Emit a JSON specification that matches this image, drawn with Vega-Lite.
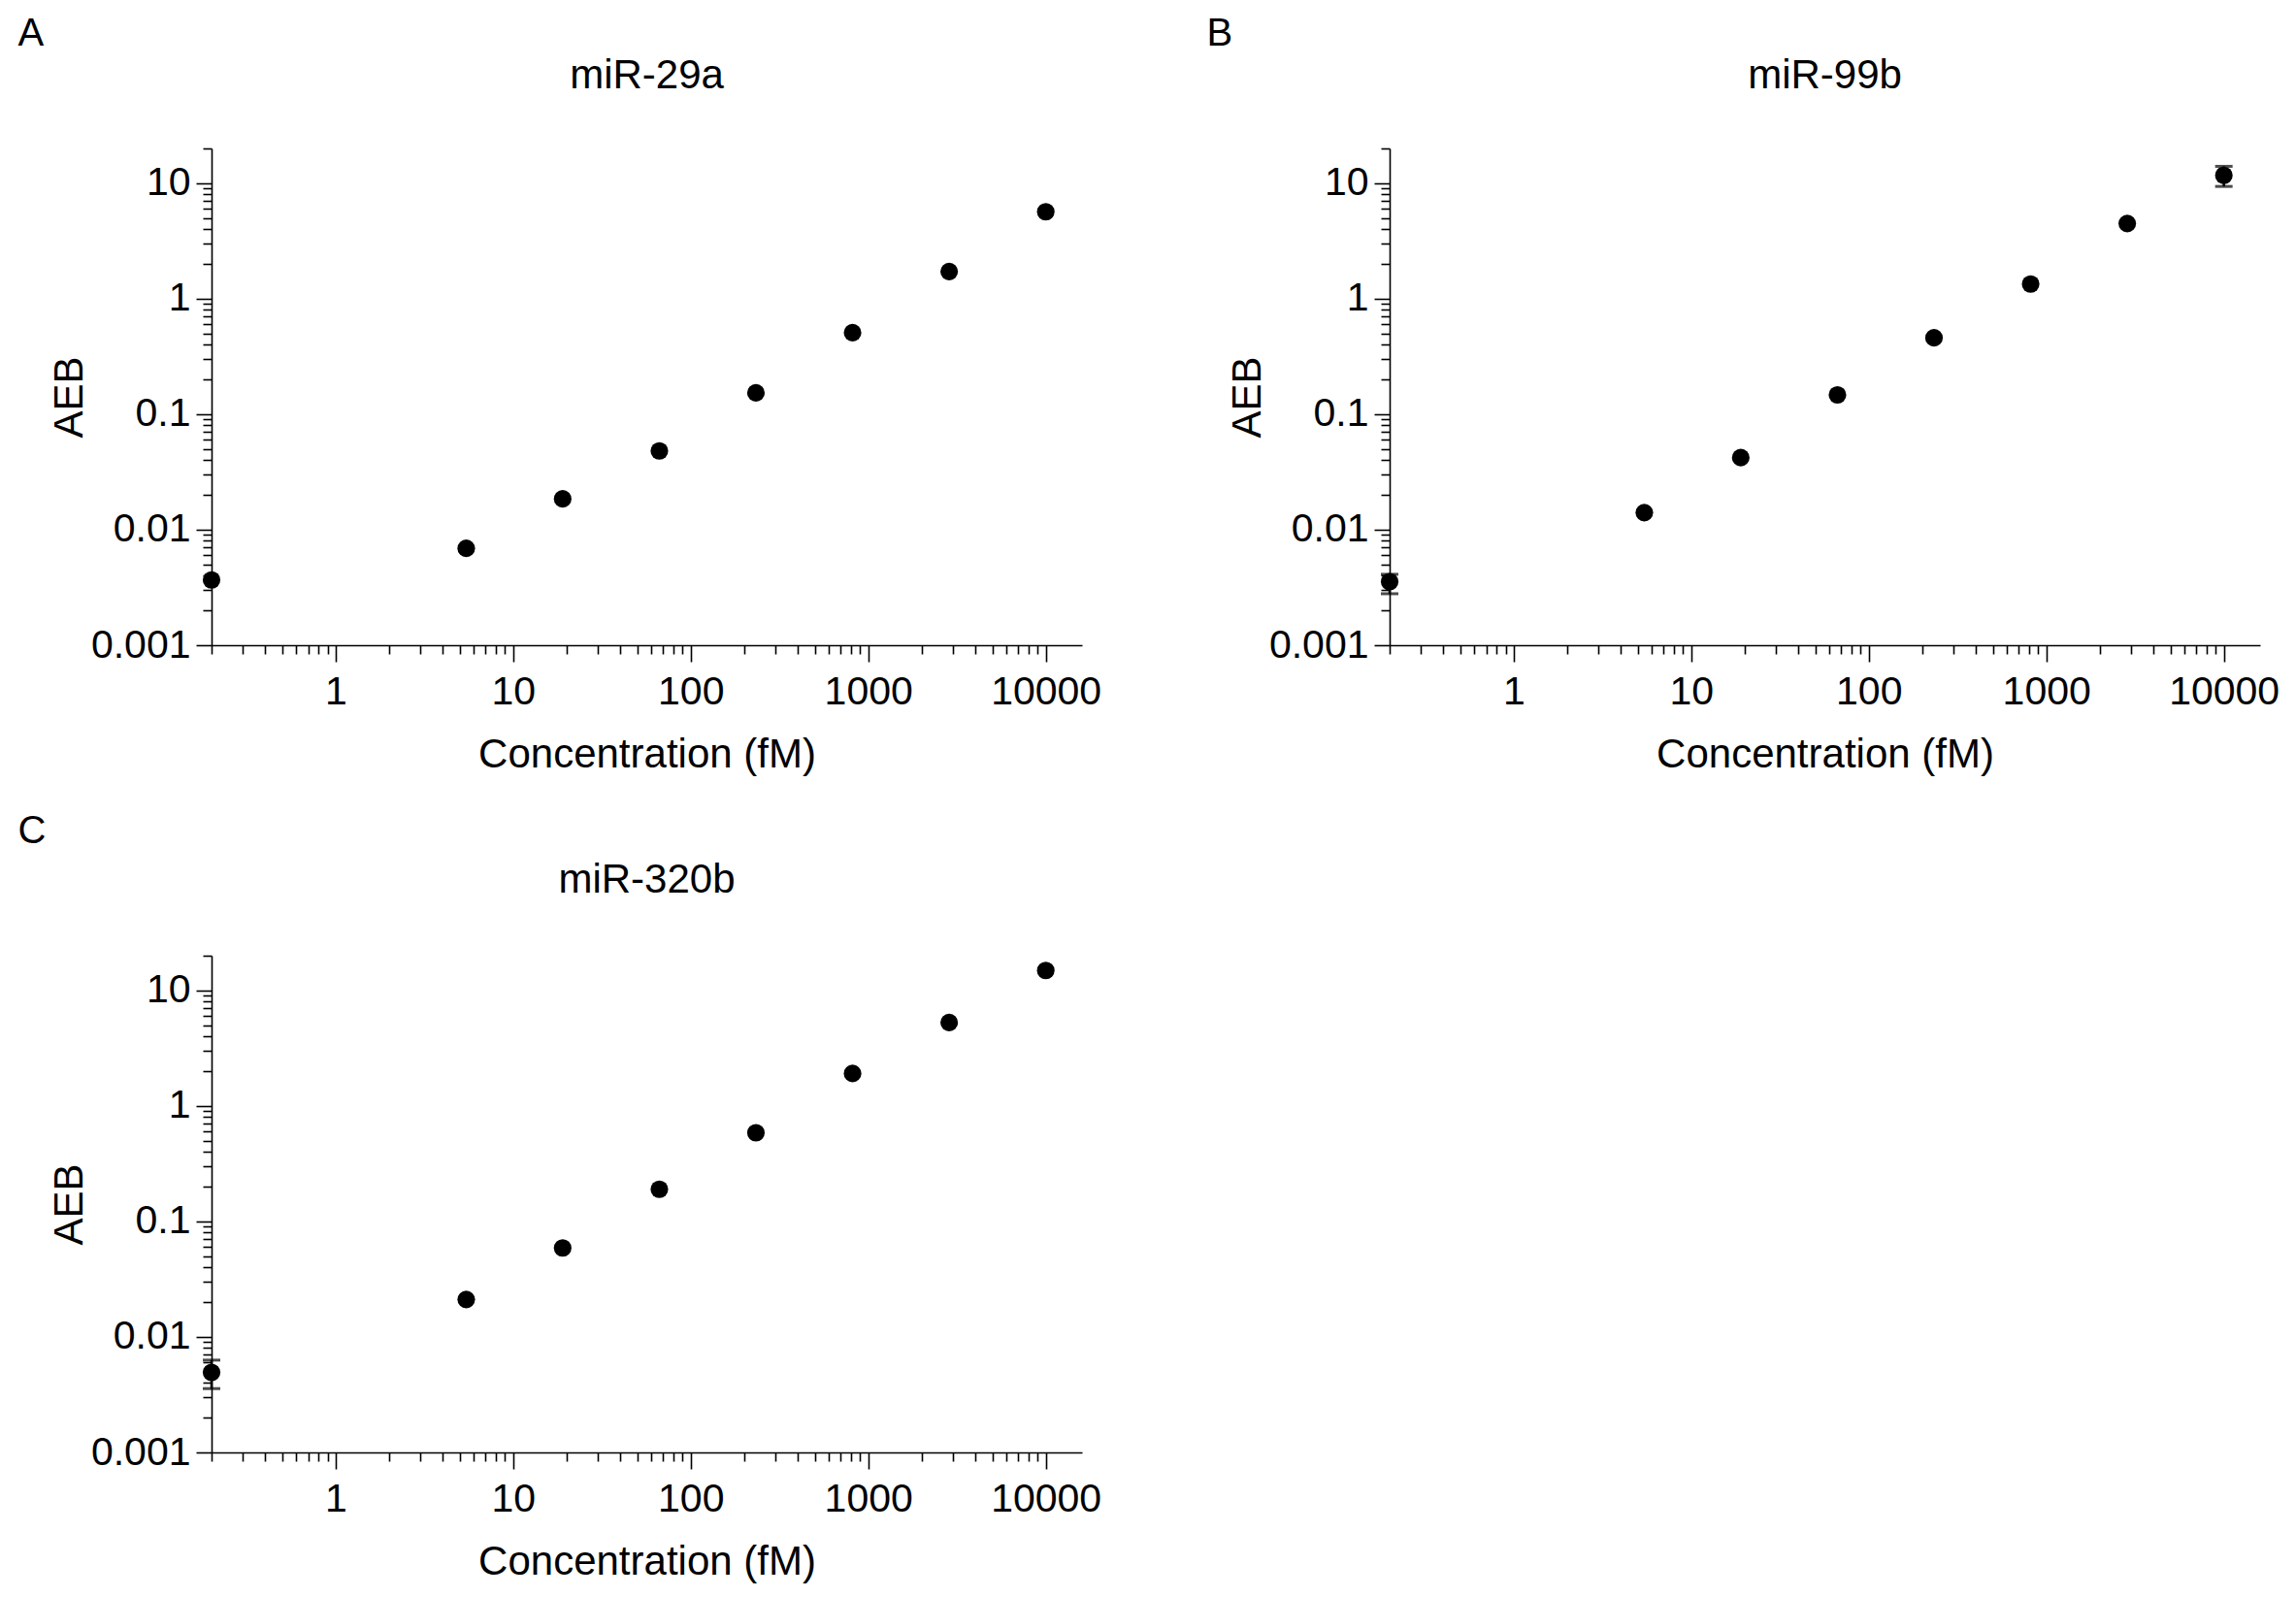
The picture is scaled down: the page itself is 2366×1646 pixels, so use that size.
{
  "$schema": "https://vega.github.io/schema/vega-lite/v6.json",
  "background": "white",
  "padding": {"left": 18, "top": 15, "right": 5, "bottom": 5},
  "config": {
    "view": {"stroke": null},
    "font": "Liberation Sans",
    "axis": {
      "grid": false,
      "domainColor": "black",
      "domainWidth": 1.6,
      "tickColor": "black",
      "tickWidth": 1.6,
      "labelColor": "black",
      "titleColor": "black",
      "labelFont": "Liberation Sans",
      "titleFont": "Liberation Sans",
      "labelFontSize": 41,
      "titleFontSize": 42,
      "titleFontWeight": "normal",
      "labelOverlap": false
    },
    "title": {"font": "Liberation Sans", "fontSize": 42, "fontWeight": "normal", "color": "black"}
  },
  "datasets": {
    "pts": [
      {"panel": "A", "conc": 0.2, "aeb": 0.00367, "lo": null, "hi": null},
      {"panel": "A", "conc": 5.44, "aeb": 0.0069, "lo": null, "hi": null},
      {"panel": "A", "conc": 19.0, "aeb": 0.0185, "lo": null, "hi": null},
      {"panel": "A", "conc": 66.6, "aeb": 0.0481, "lo": null, "hi": null},
      {"panel": "A", "conc": 233, "aeb": 0.153, "lo": null, "hi": null},
      {"panel": "A", "conc": 816, "aeb": 0.508, "lo": null, "hi": null},
      {"panel": "A", "conc": 2857, "aeb": 1.72, "lo": null, "hi": null},
      {"panel": "A", "conc": 10000, "aeb": 5.66, "lo": null, "hi": null},
      {"panel": "B", "conc": 0.2, "aeb": 0.00355, "lo": 0.00279, "hi": 0.00411},
      {"panel": "B", "conc": 5.44, "aeb": 0.01406, "lo": null, "hi": null},
      {"panel": "B", "conc": 19.0, "aeb": 0.0421, "lo": null, "hi": null},
      {"panel": "B", "conc": 66.6, "aeb": 0.147, "lo": null, "hi": null},
      {"panel": "B", "conc": 233, "aeb": 0.459, "lo": null, "hi": null},
      {"panel": "B", "conc": 816, "aeb": 1.34, "lo": null, "hi": null},
      {"panel": "B", "conc": 2857, "aeb": 4.48, "lo": null, "hi": null},
      {"panel": "B", "conc": 10000, "aeb": 11.7, "lo": 9.38, "hi": 14.0},
      {"panel": "C", "conc": 0.2, "aeb": 0.00493, "lo": 0.00357, "hi": 0.0063},
      {"panel": "C", "conc": 5.44, "aeb": 0.0211, "lo": null, "hi": null},
      {"panel": "C", "conc": 19.0, "aeb": 0.0589, "lo": null, "hi": null},
      {"panel": "C", "conc": 66.6, "aeb": 0.19, "lo": null, "hi": null},
      {"panel": "C", "conc": 233, "aeb": 0.586, "lo": null, "hi": null},
      {"panel": "C", "conc": 816, "aeb": 1.91, "lo": null, "hi": null},
      {"panel": "C", "conc": 2857, "aeb": 5.27, "lo": null, "hi": null},
      {"panel": "C", "conc": 10000, "aeb": 14.9, "lo": null, "hi": null}
    ]
  },
  "columns": 2,
  "spacing": {"column": 108, "row": 39},
  "concat": [
    {
      "title": {"text": "A", "anchor": "start", "frame": "bounds", "fontSize": 40, "dx": -32, "offset": 2},
      "vconcat": [
        {
          "title": {"text": "miR-29a", "anchor": "middle", "frame": "group", "offset": 32},
          "width": 897,
          "height": 512,
          "data": {"name": "pts"},
          "transform": [{"filter": "datum.panel == 'A'"}],
          "encoding": {
            "x": {
              "field": "conc", "type": "quantitative",
              "scale": {"type": "log", "domain": [0.2, 16000]},
              "axis": {
                "title": "Concentration (fM)",
                "values": [0.2, 0.3, 0.4, 0.5, 0.6, 0.7, 0.8, 0.9, 1, 2, 3, 4, 5, 6, 7, 8, 9, 10, 20, 30, 40, 50, 60, 70, 80, 90, 100, 200, 300, 400, 500, 600, 700, 800, 900, 1000, 2000, 3000, 4000, 5000, 6000, 7000, 8000, 9000, 10000],
                "labelExpr": "indexof([1, 10, 100, 1000, 10000], datum.value) >= 0 ? format(datum.value, '~g') : ''",
                "tickSize": {"condition": {"test": "indexof([1, 10, 100, 1000, 10000], datum.value) >= 0", "value": 17}, "value": 9},
                "labelPadding": 11,
                "titlePadding": 24
              }
            },
            "y": {
              "field": "aeb", "type": "quantitative",
              "scale": {"type": "log", "domain": [0.001, 20]},
              "axis": {
                "title": "AEB",
                "values": [0.001, 0.002, 0.003, 0.004, 0.005, 0.006, 0.007, 0.008, 0.009, 0.01, 0.02, 0.03, 0.04, 0.05, 0.06, 0.07, 0.08, 0.09, 0.1, 0.2, 0.3, 0.4, 0.5, 0.6, 0.7, 0.8, 0.9, 1, 2, 3, 4, 5, 6, 7, 8, 9, 10, 20],
                "labelExpr": "indexof([0.001, 0.01, 0.1, 1, 10], datum.value) >= 0 ? format(datum.value, '~g') : ''",
                "tickSize": {"condition": {"test": "indexof([0.001, 0.01, 0.1, 1, 10], datum.value) >= 0", "value": 16}, "value": 9},
                "labelPadding": 6,
                "titlePadding": 0
              }
            }
          },
          "layer": [
            {
              "transform": [{"filter": "isValid(datum.lo)"}],
              "mark": {"type": "rule", "color": "black", "strokeWidth": 2.5},
              "encoding": {"y": {"field": "lo", "type": "quantitative"}, "y2": {"field": "hi"}}
            },
            {
              "transform": [{"filter": "isValid(datum.lo)"}],
              "mark": {"type": "tick", "orient": "horizontal", "color": "black", "size": 18, "thickness": 3},
              "encoding": {"y": {"field": "lo", "type": "quantitative"}}
            },
            {
              "transform": [{"filter": "isValid(datum.hi)"}],
              "mark": {"type": "tick", "orient": "horizontal", "color": "black", "size": 18, "thickness": 3},
              "encoding": {"y": {"field": "hi", "type": "quantitative"}}
            },
            {
              "mark": {"type": "circle", "color": "black", "opacity": 1, "size": 330}
            }
          ]
        }
      ]
    },
    {
      "title": {"text": "B", "anchor": "start", "frame": "bounds", "fontSize": 40, "dx": -21, "offset": 2},
      "vconcat": [
        {
          "title": {"text": "miR-99b", "anchor": "middle", "frame": "group", "offset": 32},
          "width": 897,
          "height": 512,
          "data": {"name": "pts"},
          "transform": [{"filter": "datum.panel == 'B'"}],
          "encoding": {
            "x": {
              "field": "conc", "type": "quantitative",
              "scale": {"type": "log", "domain": [0.2, 16000]},
              "axis": {
                "title": "Concentration (fM)",
                "values": [0.2, 0.3, 0.4, 0.5, 0.6, 0.7, 0.8, 0.9, 1, 2, 3, 4, 5, 6, 7, 8, 9, 10, 20, 30, 40, 50, 60, 70, 80, 90, 100, 200, 300, 400, 500, 600, 700, 800, 900, 1000, 2000, 3000, 4000, 5000, 6000, 7000, 8000, 9000, 10000],
                "labelExpr": "indexof([1, 10, 100, 1000, 10000], datum.value) >= 0 ? format(datum.value, '~g') : ''",
                "tickSize": {"condition": {"test": "indexof([1, 10, 100, 1000, 10000], datum.value) >= 0", "value": 17}, "value": 9},
                "labelPadding": 11,
                "titlePadding": 24
              }
            },
            "y": {
              "field": "aeb", "type": "quantitative",
              "scale": {"type": "log", "domain": [0.001, 20]},
              "axis": {
                "title": "AEB",
                "values": [0.001, 0.002, 0.003, 0.004, 0.005, 0.006, 0.007, 0.008, 0.009, 0.01, 0.02, 0.03, 0.04, 0.05, 0.06, 0.07, 0.08, 0.09, 0.1, 0.2, 0.3, 0.4, 0.5, 0.6, 0.7, 0.8, 0.9, 1, 2, 3, 4, 5, 6, 7, 8, 9, 10, 20],
                "labelExpr": "indexof([0.001, 0.01, 0.1, 1, 10], datum.value) >= 0 ? format(datum.value, '~g') : ''",
                "tickSize": {"condition": {"test": "indexof([0.001, 0.01, 0.1, 1, 10], datum.value) >= 0", "value": 16}, "value": 9},
                "labelPadding": 6,
                "titlePadding": 0
              }
            }
          },
          "layer": [
            {
              "transform": [{"filter": "isValid(datum.lo)"}],
              "mark": {"type": "rule", "color": "black", "strokeWidth": 2.5},
              "encoding": {"y": {"field": "lo", "type": "quantitative"}, "y2": {"field": "hi"}}
            },
            {
              "transform": [{"filter": "isValid(datum.lo)"}],
              "mark": {"type": "tick", "orient": "horizontal", "color": "black", "size": 18, "thickness": 3},
              "encoding": {"y": {"field": "lo", "type": "quantitative"}}
            },
            {
              "transform": [{"filter": "isValid(datum.hi)"}],
              "mark": {"type": "tick", "orient": "horizontal", "color": "black", "size": 18, "thickness": 3},
              "encoding": {"y": {"field": "hi", "type": "quantitative"}}
            },
            {
              "mark": {"type": "circle", "color": "black", "opacity": 1, "size": 330}
            }
          ]
        }
      ]
    },
    {
      "title": {"text": "C", "anchor": "start", "frame": "bounds", "fontSize": 40, "dx": -32, "offset": 9},
      "vconcat": [
        {
          "title": {"text": "miR-320b", "anchor": "middle", "frame": "group", "offset": 35},
          "width": 897,
          "height": 512,
          "data": {"name": "pts"},
          "transform": [{"filter": "datum.panel == 'C'"}],
          "encoding": {
            "x": {
              "field": "conc", "type": "quantitative",
              "scale": {"type": "log", "domain": [0.2, 16000]},
              "axis": {
                "title": "Concentration (fM)",
                "values": [0.2, 0.3, 0.4, 0.5, 0.6, 0.7, 0.8, 0.9, 1, 2, 3, 4, 5, 6, 7, 8, 9, 10, 20, 30, 40, 50, 60, 70, 80, 90, 100, 200, 300, 400, 500, 600, 700, 800, 900, 1000, 2000, 3000, 4000, 5000, 6000, 7000, 8000, 9000, 10000],
                "labelExpr": "indexof([1, 10, 100, 1000, 10000], datum.value) >= 0 ? format(datum.value, '~g') : ''",
                "tickSize": {"condition": {"test": "indexof([1, 10, 100, 1000, 10000], datum.value) >= 0", "value": 17}, "value": 9},
                "labelPadding": 11,
                "titlePadding": 24
              }
            },
            "y": {
              "field": "aeb", "type": "quantitative",
              "scale": {"type": "log", "domain": [0.001, 20]},
              "axis": {
                "title": "AEB",
                "values": [0.001, 0.002, 0.003, 0.004, 0.005, 0.006, 0.007, 0.008, 0.009, 0.01, 0.02, 0.03, 0.04, 0.05, 0.06, 0.07, 0.08, 0.09, 0.1, 0.2, 0.3, 0.4, 0.5, 0.6, 0.7, 0.8, 0.9, 1, 2, 3, 4, 5, 6, 7, 8, 9, 10, 20],
                "labelExpr": "indexof([0.001, 0.01, 0.1, 1, 10], datum.value) >= 0 ? format(datum.value, '~g') : ''",
                "tickSize": {"condition": {"test": "indexof([0.001, 0.01, 0.1, 1, 10], datum.value) >= 0", "value": 16}, "value": 9},
                "labelPadding": 6,
                "titlePadding": 0
              }
            }
          },
          "layer": [
            {
              "transform": [{"filter": "isValid(datum.lo)"}],
              "mark": {"type": "rule", "color": "black", "strokeWidth": 2.5},
              "encoding": {"y": {"field": "lo", "type": "quantitative"}, "y2": {"field": "hi"}}
            },
            {
              "transform": [{"filter": "isValid(datum.lo)"}],
              "mark": {"type": "tick", "orient": "horizontal", "color": "black", "size": 18, "thickness": 3},
              "encoding": {"y": {"field": "lo", "type": "quantitative"}}
            },
            {
              "transform": [{"filter": "isValid(datum.hi)"}],
              "mark": {"type": "tick", "orient": "horizontal", "color": "black", "size": 18, "thickness": 3},
              "encoding": {"y": {"field": "hi", "type": "quantitative"}}
            },
            {
              "mark": {"type": "circle", "color": "black", "opacity": 1, "size": 330}
            }
          ]
        }
      ]
    }
  ]
}
